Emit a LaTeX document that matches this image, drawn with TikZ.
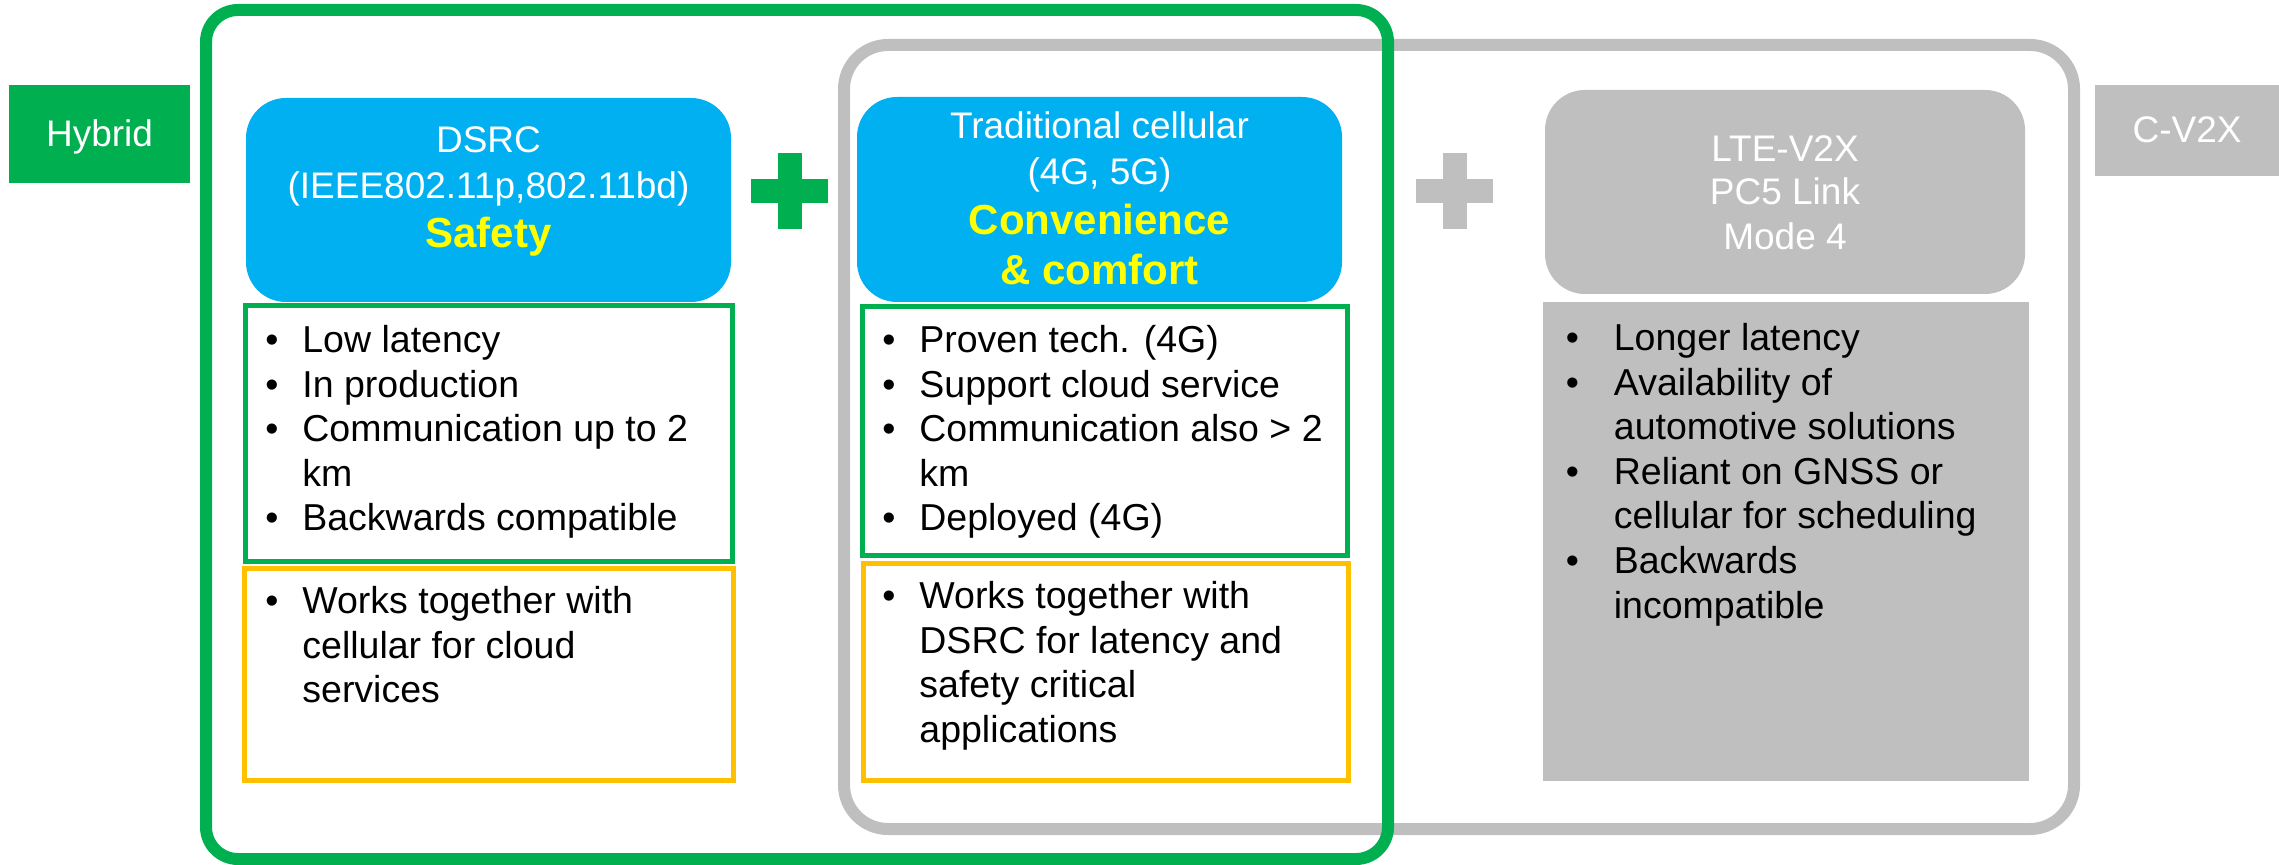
\documentclass[tikz,border=0pt]{standalone}
\usepackage{fontspec}
\setmainfont{Liberation Sans}
\usetikzlibrary{positioning}

\definecolor{hybgreen}{HTML}{00B050}
\definecolor{cellblue}{HTML}{00B0F0}
\definecolor{cvgray}{HTML}{BFBFBF}
\definecolor{boxyellow}{HTML}{FFC000}
\definecolor{hiyellow}{HTML}{FFFF00}

\newlength\bulw
\setlength\bulw{18.5pt}
\newcommand\bul{\makebox[\bulw][l]{\textbullet}}
\newcommand\cont{\hspace*{\bulw}}

\tikzset{
    bigframe/.style={line width=6pt},
    headbox/.style={rounded corners=20pt},
    listbox/.style={line width=2.75pt},
    tagtext/.style={anchor=base, text=white, font=\fontsize{18.5}{22}\selectfont},
    headtext/.style={anchor=base, text=white, font=\fontsize{18.5}{22}\selectfont},
    keytext/.style={anchor=base, text=hiyellow, font=\fontsize{21}{25}\selectfont\bfseries},
    bultext/.style={anchor=north west, inner sep=0pt, align=left,
        font=\fontsize{18.75}{22.3}\selectfont},
    graytext/.style={bultext,
        font=\fontsize{18.75}{22.3}\selectfont\setlength\bulw{24pt}},
}

\begin{document}
\begin{tikzpicture}[x=0.5pt, y=-0.5pt]
    \useasboundingbox (0,0) rectangle (2279,865);

    % outer frames (gray first, green on top)
    \draw[cvgray, bigframe, rounded corners=22pt] (844,45) rectangle (2074,829);
    \draw[hybgreen, bigframe, rounded corners=16pt] (206,10) rectangle (1388,859);

    % side tags
    \fill[hybgreen] (9,85) rectangle (190,183);
    \node[tagtext] (hybrid) at (99.5,147) {Hybrid};
    \fill[cvgray] (2095,85) rectangle (2279,176);
    \node[tagtext] (cv2x) at (2187,143) {C-V2X};

    % header boxes
    \fill[cellblue, headbox] (246,98) rectangle (731,302);
    \fill[cellblue, headbox] (857,97) rectangle (1342,302);
    \fill[cvgray, headbox] (1545,90) rectangle (2025,294);

    \node[headtext] (dsrc) at (488.5,153) {DSRC};
    \node[headtext] (ieee) at (488.5,199) {(IEEE802.11p,802.11bd)};
    \node[keytext] (safety) at (488.5,248) {Safety};
    \node[headtext] (trad) at (1099.5,139) {Traditional cellular};
    \node[headtext] (gens) at (1099.5,185) {(4G, 5G)};
    \node[keytext] (conv) at (1099.5,235) {Convenience};
    \node[keytext] (comf) at (1099.5,285) {\& comfort};
    \node[headtext] (lte) at (1785,162) {LTE-V2X};
    \node[headtext] (pcfive) at (1785,205) {PC5 Link};
    \node[headtext] (mode) at (1785,250) {Mode 4};

    % plus signs
    \foreach \cx/\co in {789.5/hybgreen, 1454.5/cvgray}{
        \fill[\co] (\cx-12,153) rectangle (\cx+12,229);
        \fill[\co] (\cx-38.5,179) rectangle (\cx+38.5,203);
    }

    % list boxes
    \draw[hybgreen, listbox] (245.5,305.5) rectangle (732.5,561.5);
    \draw[boxyellow, listbox] (244.5,568.5) rectangle (733.5,780.5);
    \draw[hybgreen, listbox] (862.5,306.5) rectangle (1347.5,555.5);
    \draw[boxyellow, listbox] (863.5,563.5) rectangle (1348.5,780.5);
    \fill[cvgray] (1543,302) rectangle (2029,781);

    \node[bultext] (dsrcpro) at (265,320.8) {\strut\bul Low latency\\\bul In production\\\bul Communication up to 2\\\cont km\\\bul Backwards compatible};
    \node[bultext] (dsrccon) at (265,581.8) {\strut\bul Works together with\\\cont cellular for cloud\\\cont services};
    \node[bultext] (cellpro) at (882,320.8) {\strut\bul Proven tech. (4G)\\\bul Support cloud service\\\bul Communication also > 2\\\cont km\\\bul Deployed (4G)};
    \node[bultext] (cellcon) at (882,576.8) {\strut\bul Works together with\\\cont DSRC for latency and\\\cont safety critical\\\cont applications};
    \node[graytext] (ltecon) at (1565.5,318.8) {\strut\bul Longer latency\\\bul Availability of\\\cont automotive solutions\\\bul Reliant on GNSS or\\\cont cellular for scheduling\\\bul Backwards\\\cont incompatible};
\end{tikzpicture}
\end{document}
